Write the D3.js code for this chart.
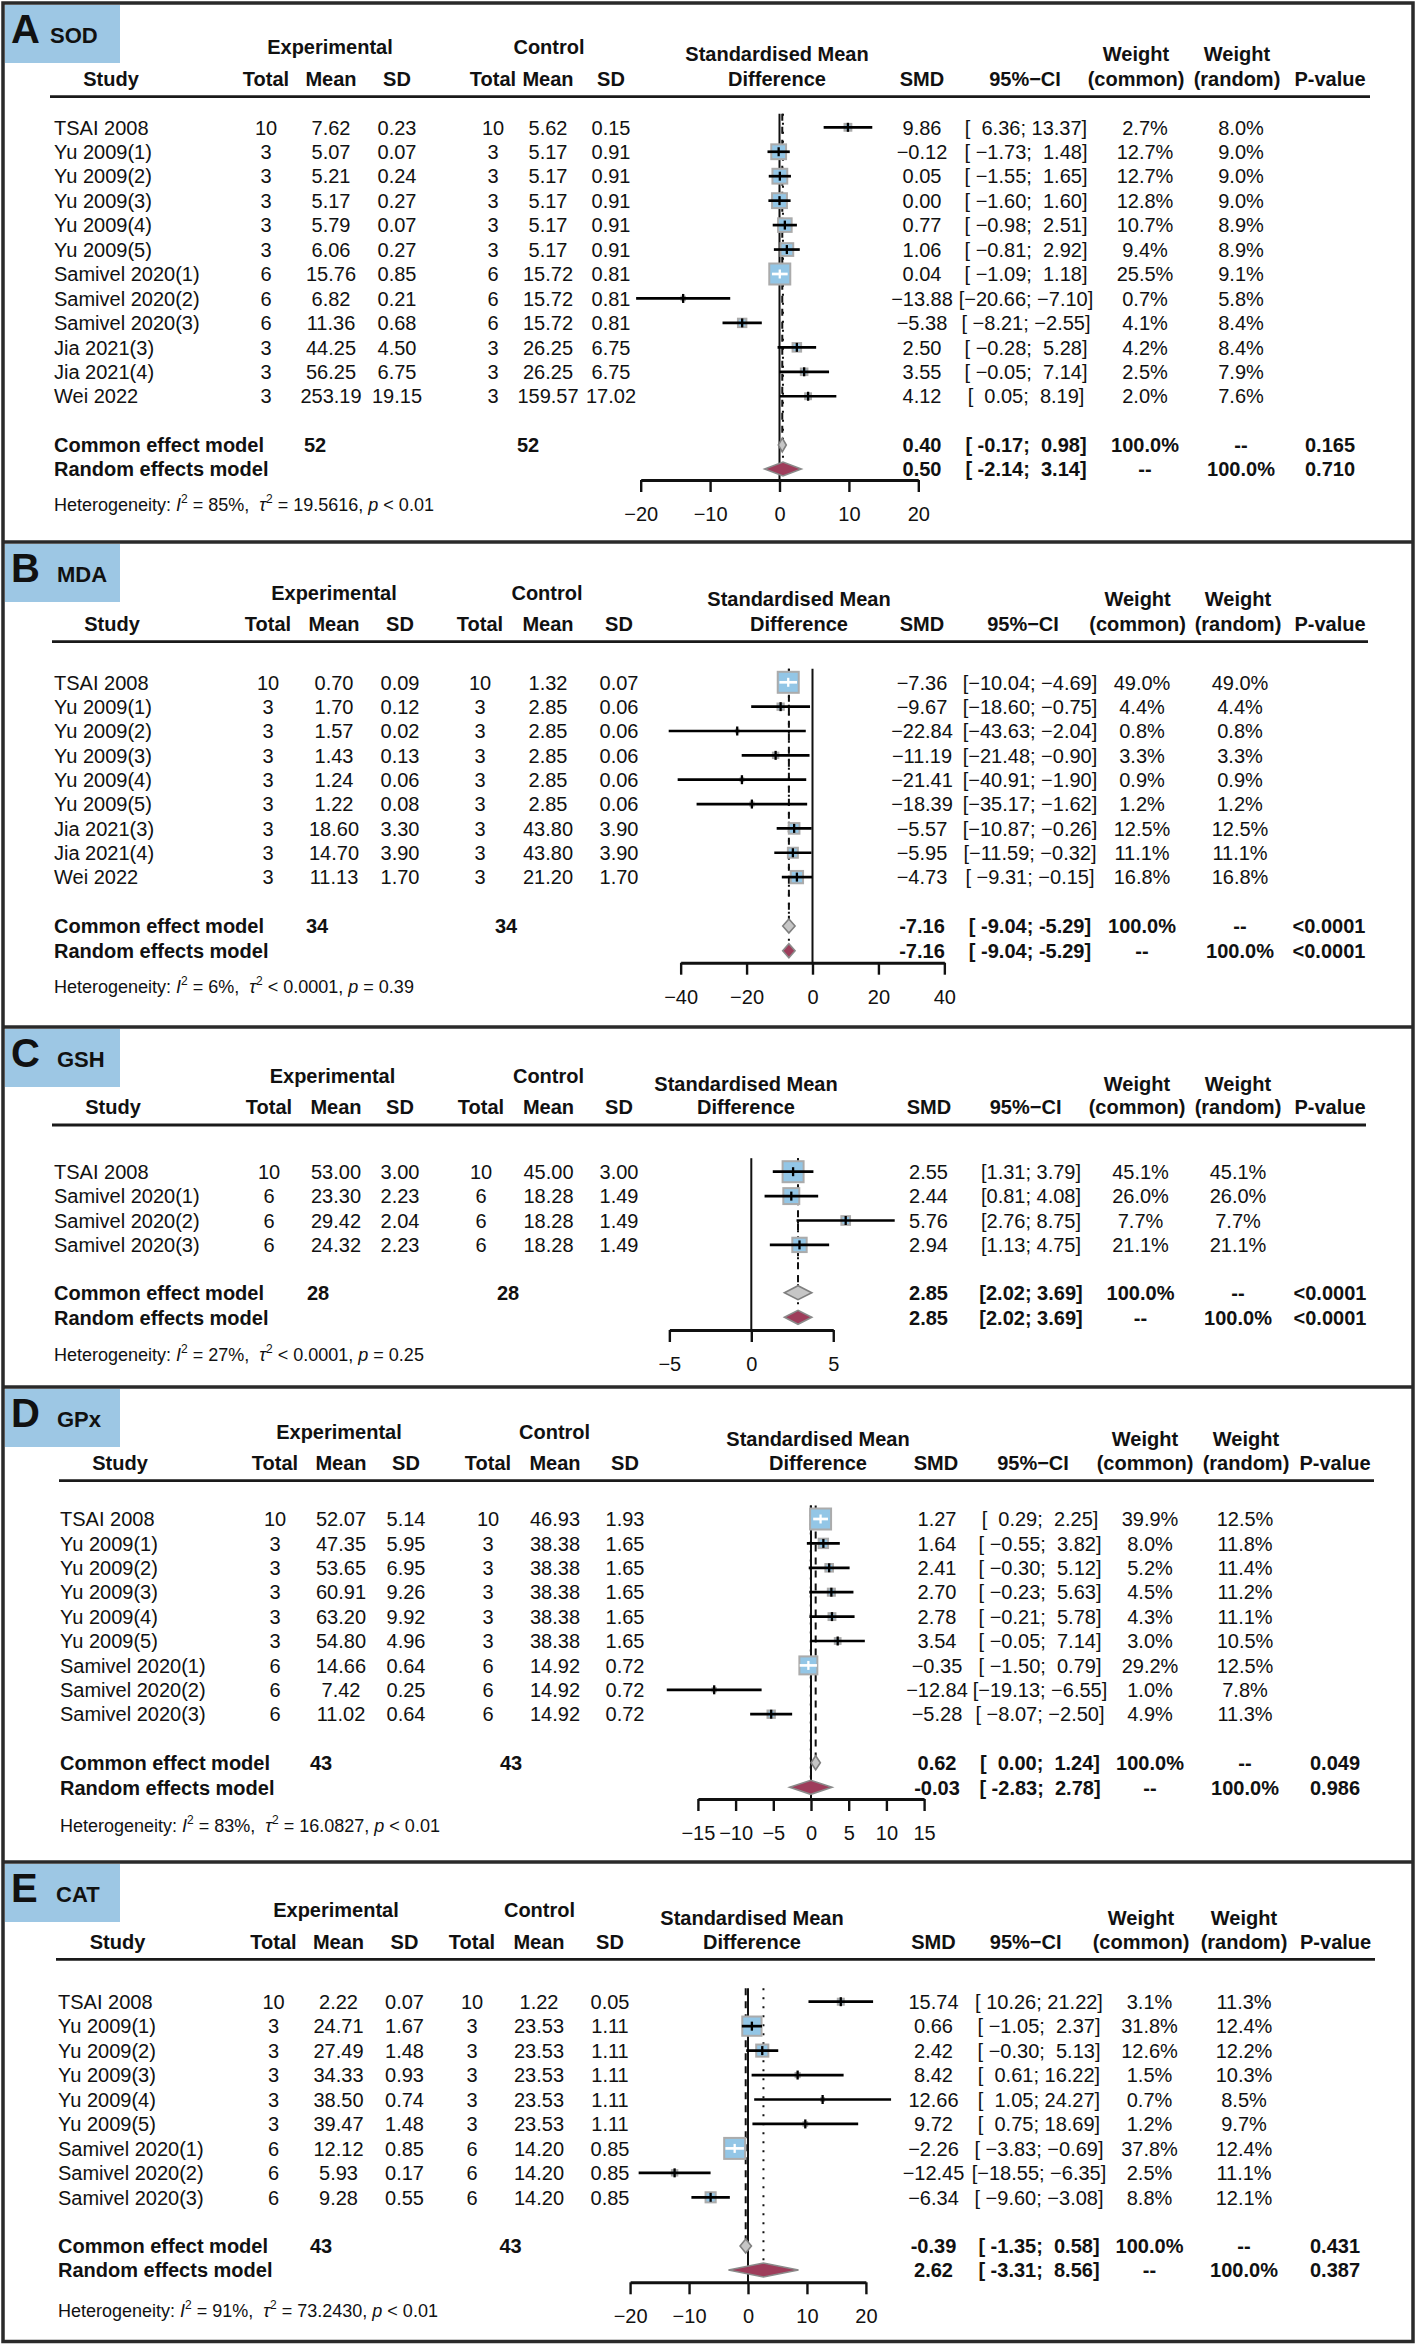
<!DOCTYPE html>
<html><head><meta charset="utf-8">
<script src="https://cdn.jsdelivr.net/npm/d3@7"></script>
<style>
body{margin:0;background:#fff}
svg{display:block}
text{font-family:"Liberation Sans",Arial,Helvetica,sans-serif;white-space:pre;fill:#111}
</style></head>
<body><svg id="fig" width="1417" height="2346"></svg>
<script>
// ---------------- DATA ----------------
// A: SOD
const sodStudy = ["TSAI 2008","Yu 2009(1)","Yu 2009(2)","Yu 2009(3)","Yu 2009(4)","Yu 2009(5)","Samivel 2020(1)","Samivel 2020(2)","Samivel 2020(3)","Jia 2021(3)","Jia 2021(4)","Wei 2022"];
const sodExpN = [10,3,3,3,3,3,6,6,6,3,3,3];
const sodExpMean = [7.62,5.07,5.21,5.17,5.79,6.06,15.76,6.82,11.36,44.25,56.25,253.19];
const sodExpSD = [0.23,0.07,0.24,0.27,0.07,0.27,0.85,0.21,0.68,4.50,6.75,19.15];
const sodCtrlN = [10,3,3,3,3,3,6,6,6,3,3,3];
const sodCtrlMean = [5.62,5.17,5.17,5.17,5.17,5.17,15.72,15.72,15.72,26.25,26.25,159.57];
const sodCtrlSD = [0.15,0.91,0.91,0.91,0.91,0.91,0.81,0.81,0.81,6.75,6.75,17.02];
const sodSMD = [9.86,-0.12,0.05,0.00,0.77,1.06,0.04,-13.88,-5.38,2.50,3.55,4.12];
const sodLower = [6.36,-1.73,-1.55,-1.60,-0.98,-0.81,-1.09,-20.66,-8.21,-0.28,-0.05,0.05];
const sodUpper = [13.37,1.48,1.65,1.60,2.51,2.92,1.18,-7.10,-2.55,5.28,7.14,8.19];
const sodWCommon = [2.7,12.7,12.7,12.8,10.7,9.4,25.5,0.7,4.1,4.2,2.5,2.0];
const sodWRandom = [8.0,9.0,9.0,9.0,8.9,8.9,9.1,5.8,8.4,8.4,7.9,7.6];
const sodCommon = [0.40,-0.17,0.98];
const sodRandom = [0.50,-2.14,3.14];
const sodTotals = [52,52];
const sodPvalues = ["0.165","0.710"];
const sodHet = ["85%","= 19.5616","< 0.01"];
const sodTicks = [-20,-10,0,10,20];

// B: MDA
const mdaStudy = ["TSAI 2008","Yu 2009(1)","Yu 2009(2)","Yu 2009(3)","Yu 2009(4)","Yu 2009(5)","Jia 2021(3)","Jia 2021(4)","Wei 2022"];
const mdaExpN = [10,3,3,3,3,3,3,3,3];
const mdaExpMean = [0.70,1.70,1.57,1.43,1.24,1.22,18.60,14.70,11.13];
const mdaExpSD = [0.09,0.12,0.02,0.13,0.06,0.08,3.30,3.90,1.70];
const mdaCtrlN = [10,3,3,3,3,3,3,3,3];
const mdaCtrlMean = [1.32,2.85,2.85,2.85,2.85,2.85,43.80,43.80,21.20];
const mdaCtrlSD = [0.07,0.06,0.06,0.06,0.06,0.06,3.90,3.90,1.70];
const mdaSMD = [-7.36,-9.67,-22.84,-11.19,-21.41,-18.39,-5.57,-5.95,-4.73];
const mdaLower = [-10.04,-18.60,-43.63,-21.48,-40.91,-35.17,-10.87,-11.59,-9.31];
const mdaUpper = [-4.69,-0.75,-2.04,-0.90,-1.90,-1.62,-0.26,-0.32,-0.15];
const mdaWCommon = [49.0,4.4,0.8,3.3,0.9,1.2,12.5,11.1,16.8];
const mdaWRandom = [49.0,4.4,0.8,3.3,0.9,1.2,12.5,11.1,16.8];
const mdaCommon = [-7.16,-9.04,-5.29];
const mdaRandom = [-7.16,-9.04,-5.29];
const mdaTotals = [34,34];
const mdaPvalues = ["<0.0001","<0.0001"];
const mdaHet = ["6%","< 0.0001","= 0.39"];
const mdaTicks = [-40,-20,0,20,40];

// C: GSH
const gshStudy = ["TSAI 2008","Samivel 2020(1)","Samivel 2020(2)","Samivel 2020(3)"];
const gshExpN = [10,6,6,6];
const gshExpMean = [53.00,23.30,29.42,24.32];
const gshExpSD = [3.00,2.23,2.04,2.23];
const gshCtrlN = [10,6,6,6];
const gshCtrlMean = [45.00,18.28,18.28,18.28];
const gshCtrlSD = [3.00,1.49,1.49,1.49];
const gshSMD = [2.55,2.44,5.76,2.94];
const gshLower = [1.31,0.81,2.76,1.13];
const gshUpper = [3.79,4.08,8.75,4.75];
const gshWCommon = [45.1,26.0,7.7,21.1];
const gshWRandom = [45.1,26.0,7.7,21.1];
const gshCommon = [2.85,2.02,3.69];
const gshRandom = [2.85,2.02,3.69];
const gshTotals = [28,28];
const gshPvalues = ["<0.0001","<0.0001"];
const gshHet = ["27%","< 0.0001","= 0.25"];
const gshTicks = [-5,0,5];

// D: GPx
const gpxStudy = ["TSAI 2008","Yu 2009(1)","Yu 2009(2)","Yu 2009(3)","Yu 2009(4)","Yu 2009(5)","Samivel 2020(1)","Samivel 2020(2)","Samivel 2020(3)"];
const gpxExpN = [10,3,3,3,3,3,6,6,6];
const gpxExpMean = [52.07,47.35,53.65,60.91,63.20,54.80,14.66,7.42,11.02];
const gpxExpSD = [5.14,5.95,6.95,9.26,9.92,4.96,0.64,0.25,0.64];
const gpxCtrlN = [10,3,3,3,3,3,6,6,6];
const gpxCtrlMean = [46.93,38.38,38.38,38.38,38.38,38.38,14.92,14.92,14.92];
const gpxCtrlSD = [1.93,1.65,1.65,1.65,1.65,1.65,0.72,0.72,0.72];
const gpxSMD = [1.27,1.64,2.41,2.70,2.78,3.54,-0.35,-12.84,-5.28];
const gpxLower = [0.29,-0.55,-0.30,-0.23,-0.21,-0.05,-1.50,-19.13,-8.07];
const gpxUpper = [2.25,3.82,5.12,5.63,5.78,7.14,0.79,-6.55,-2.50];
const gpxWCommon = [39.9,8.0,5.2,4.5,4.3,3.0,29.2,1.0,4.9];
const gpxWRandom = [12.5,11.8,11.4,11.2,11.1,10.5,12.5,7.8,11.3];
const gpxCommon = [0.62,0.00,1.24];
const gpxRandom = [-0.03,-2.83,2.78];
const gpxTotals = [43,43];
const gpxPvalues = ["0.049","0.986"];
const gpxHet = ["83%","= 16.0827","< 0.01"];
const gpxTicks = [-15,-10,-5,0,5,10,15];

// E: CAT
const catStudy = ["TSAI 2008","Yu 2009(1)","Yu 2009(2)","Yu 2009(3)","Yu 2009(4)","Yu 2009(5)","Samivel 2020(1)","Samivel 2020(2)","Samivel 2020(3)"];
const catExpN = [10,3,3,3,3,3,6,6,6];
const catExpMean = [2.22,24.71,27.49,34.33,38.50,39.47,12.12,5.93,9.28];
const catExpSD = [0.07,1.67,1.48,0.93,0.74,1.48,0.85,0.17,0.55];
const catCtrlN = [10,3,3,3,3,3,6,6,6];
const catCtrlMean = [1.22,23.53,23.53,23.53,23.53,23.53,14.20,14.20,14.20];
const catCtrlSD = [0.05,1.11,1.11,1.11,1.11,1.11,0.85,0.85,0.85];
const catSMD = [15.74,0.66,2.42,8.42,12.66,9.72,-2.26,-12.45,-6.34];
const catLower = [10.26,-1.05,-0.30,0.61,1.05,0.75,-3.83,-18.55,-9.60];
const catUpper = [21.22,2.37,5.13,16.22,24.27,18.69,-0.69,-6.35,-3.08];
const catWCommon = [3.1,31.8,12.6,1.5,0.7,1.2,37.8,2.5,8.8];
const catWRandom = [11.3,12.4,12.2,10.3,8.5,9.7,12.4,11.1,12.1];
const catCommon = [-0.39,-1.35,0.58];
const catRandom = [2.62,-3.31,8.56];
const catTotals = [43,43];
const catPvalues = ["0.431","0.387"];
const catHet = ["91%","= 73.2430","< 0.01"];
const catTicks = [-20,-10,0,10,20];

// ---------------- LAYOUT ----------------
const layoutA = {top:3, subX:50, h1:46.7, h1b:54, h2:79, hline:96.7, lx1:50, lx2:1370, row0:127.3, step:24.45, yCom:445, yRan:469, yAxis:480, yHet:504, x0:779.5, ppu:6.94, studyX:54, studyH:111, cols:[266,331,397,493,548,611], expH:330, ctrlH:549, fH:777, smd:922, smdH:922, ci:1026, ciH:1025, wc:1145, wcH:1136, wr:1241, wrH:1237, p:1330, pH:1330, totE:315, totC:528};
const layoutB = {top:542, subX:57, h1:593, h1b:599, h2:624, hline:641.7, lx1:52, lx2:1368, row0:682.3, step:24.35, yCom:926, yRan:950.7, yAxis:962.7, yHet:986.7, x0:812.5, ppu:3.296, studyX:54, studyH:112, cols:[268,334,400,480,548,619], expH:334, ctrlH:547, fH:799, smd:922, smdH:922, ci:1030, ciH:1023, wc:1142, wcH:1137.6, wr:1240, wrH:1238, p:1329, pH:1330, totE:317, totC:506};
const layoutC = {top:1027, subX:57, h1:1076, h1b:1083.3, h2:1106.7, hline:1125, lx1:52, lx2:1366, row0:1171.7, step:24.4, yCom:1292.7, yRan:1317.3, yAxis:1330, yHet:1354, x0:751.3, ppu:16.39, studyX:54, studyH:113, cols:[269,336,400,481,548.5,619], expH:332.5, ctrlH:548.5, fH:746, smd:928.5, smdH:929, ci:1031, ciH:1025.6, wc:1140.5, wcH:1137, wr:1238, wrH:1238, p:1330, pH:1330, totE:318, totC:508};
const layoutD = {top:1387, subX:57, h1:1431.7, h1b:1438.3, h2:1462.7, hline:1480.7, lx1:59, lx2:1374, row0:1519, step:24.4, yCom:1762.7, yRan:1787.3, yAxis:1799, yHet:1825, x0:811, ppu:7.54, studyX:60, studyH:120, cols:[275,341,406,488,555,625], expH:339, ctrlH:554.6, fH:818, smd:937, smdH:936, ci:1040, ciH:1033, wc:1150, wcH:1145, wr:1245, wrH:1246, p:1335, pH:1335, totE:321, totC:511};
const layoutE = {top:1862, subX:56, h1:1910, h1b:1917.3, h2:1941.7, hline:1959.3, lx1:56, lx2:1375, row0:2001.7, step:24.45, yCom:2246, yRan:2270, yAxis:2282.3, yHet:2310, x0:748, ppu:5.895, studyX:58, studyH:117.5, cols:[273.5,338.5,404.5,472,539,610], expH:336, ctrlH:539.5, fH:752, smd:933.5, smdH:933.5, ci:1039, ciH:1025.7, wc:1149.5, wcH:1141, wr:1244, wrH:1244, p:1335, pH:1335.6, totE:321, totC:510.6};

const panels = [
 {letter:"A", name:"SOD", study:sodStudy, eN:sodExpN, eM:sodExpMean, eS:sodExpSD, cN:sodCtrlN, cM:sodCtrlMean, cS:sodCtrlSD, smd:sodSMD, lo:sodLower, hi:sodUpper, wc:sodWCommon, wr:sodWRandom, com:sodCommon, ran:sodRandom, tot:sodTotals, pv:sodPvalues, het:sodHet, ticks:sodTicks, L:layoutA},
 {letter:"B", name:"MDA", study:mdaStudy, eN:mdaExpN, eM:mdaExpMean, eS:mdaExpSD, cN:mdaCtrlN, cM:mdaCtrlMean, cS:mdaCtrlSD, smd:mdaSMD, lo:mdaLower, hi:mdaUpper, wc:mdaWCommon, wr:mdaWRandom, com:mdaCommon, ran:mdaRandom, tot:mdaTotals, pv:mdaPvalues, het:mdaHet, ticks:mdaTicks, L:layoutB},
 {letter:"C", name:"GSH", study:gshStudy, eN:gshExpN, eM:gshExpMean, eS:gshExpSD, cN:gshCtrlN, cM:gshCtrlMean, cS:gshCtrlSD, smd:gshSMD, lo:gshLower, hi:gshUpper, wc:gshWCommon, wr:gshWRandom, com:gshCommon, ran:gshRandom, tot:gshTotals, pv:gshPvalues, het:gshHet, ticks:gshTicks, L:layoutC},
 {letter:"D", name:"GPx", study:gpxStudy, eN:gpxExpN, eM:gpxExpMean, eS:gpxExpSD, cN:gpxCtrlN, cM:gpxCtrlMean, cS:gpxCtrlSD, smd:gpxSMD, lo:gpxLower, hi:gpxUpper, wc:gpxWCommon, wr:gpxWRandom, com:gpxCommon, ran:gpxRandom, tot:gpxTotals, pv:gpxPvalues, het:gpxHet, ticks:gpxTicks, L:layoutD},
 {letter:"E", name:"CAT", study:catStudy, eN:catExpN, eM:catExpMean, eS:catExpSD, cN:catCtrlN, cM:catCtrlMean, cS:catCtrlSD, smd:catSMD, lo:catLower, hi:catUpper, wc:catWCommon, wr:catWRandom, com:catCommon, ran:catRandom, tot:catTotals, pv:catPvalues, het:catHet, ticks:catTicks, L:layoutE}
];

// ---------------- DRAW ----------------
const svg = d3.select("#fig");
svg.append("rect").attr("width",1417).attr("height",2346).attr("fill","#fff");

const MINUS = "\u2212";
function num(v, bold){ const s = Math.abs(v).toFixed(2); return (v < 0 ? (bold ? "-" : MINUS) : "") + s; }
function pad(s, n){ while (s.length < n) s = " " + s; return s; }

function txt(g, x, y, s, opt){
  opt = opt || {};
  return g.append("text").attr("x", x).attr("y", y + (opt.size || 20) * 0.36)
    .attr("font-size", opt.size || 20)
    .attr("font-weight", opt.bold ? "bold" : null)
    .attr("text-anchor", opt.anchor || "middle")
    .text(s);
}

function drawPanel(P){
  const L = P.L, g = svg.append("g");
  const n = P.study.length;
  // label box
  g.append("rect").attr("x",5).attr("y",L.top+2).attr("width",115).attr("height",58).attr("fill","#9dc7e4");
  g.append("text").attr("x",11).attr("y",L.top+40).attr("font-size",40).attr("font-weight","bold").text(P.letter);
  g.append("text").attr("x",L.subX).attr("y",L.top+40).attr("font-size",22).attr("font-weight","bold").text(P.name);

  // headers
  txt(g, L.expH, L.h1, "Experimental", {bold:true});
  txt(g, L.ctrlH, L.h1, "Control", {bold:true});
  txt(g, L.fH, L.h1b, "Standardised Mean", {bold:true});
  txt(g, L.wcH, L.h1b, "Weight", {bold:true});
  txt(g, L.wrH, L.h1b, "Weight", {bold:true});
  txt(g, L.studyH, L.h2, "Study", {bold:true});
  ["Total","Mean","SD","Total","Mean","SD"].forEach((h,i)=>txt(g, L.cols[i], L.h2, h, {bold:true}));
  txt(g, L.fH, L.h2, "Difference", {bold:true});
  txt(g, L.smdH, L.h2, "SMD", {bold:true});
  txt(g, L.ciH, L.h2, "95%" + MINUS + "CI", {bold:true});
  txt(g, L.wcH, L.h2, "(common)", {bold:true});
  txt(g, L.wrH, L.h2, "(random)", {bold:true});
  txt(g, L.pH, L.h2, "P-value", {bold:true});
  g.append("line").attr("x1",L.lx1).attr("x2",L.lx2).attr("y1",L.hline).attr("y2",L.hline)
    .attr("stroke","#1a1a1a").attr("stroke-width",2.8);

  // scales
  const t0 = P.ticks[0], t1 = P.ticks[P.ticks.length-1];
  const x = d3.scaleLinear().domain([t0, t1]).range([L.x0 + t0*L.ppu, L.x0 + t1*L.ppu]);
  const y = d3.scaleLinear().domain([0, n-1]).range([L.row0, L.row0 + (n-1)*L.step]);
  const wmax = d3.max(P.wc);
  const side = d3.scaleSqrt().domain([0, wmax]).range([0, 21]);

  // CI strings with meta-style padding
  const loS = P.lo.map(v=>num(v,false)), hiS = P.hi.map(v=>num(v,false));
  const cLo = num(P.com[1],true), cHi = num(P.com[2],true), rLo = num(P.ran[1],true), rHi = num(P.ran[2],true);
  const lw = d3.max([...loS, cLo, rLo], s=>s.length), hw = d3.max([...hiS, cHi, rHi], s=>s.length);
  const ci = (a,b) => "[" + pad(a,lw) + "; " + pad(b,hw) + "]";

  // reference lines
  const yTop = L.row0 - 13.5;
  g.append("line").attr("x1",x(0)).attr("x2",x(0)).attr("y1",yTop).attr("y2",L.yAxis)
    .attr("stroke","#111").attr("stroke-width",2);
  g.append("line").attr("x1",x(P.com[0])).attr("x2",x(P.com[0])).attr("y1",yTop).attr("y2",L.yCom-7)
    .attr("stroke","#111").attr("stroke-width",2).attr("stroke-dasharray","7,6");
  g.append("line").attr("x1",x(P.ran[0])).attr("x2",x(P.ran[0])).attr("y1",yTop).attr("y2",L.yRan-7)
    .attr("stroke","#111").attr("stroke-width",2).attr("stroke-dasharray","2,7");

  // study rows
  for (let i = 0; i < n; i++){
    const yy = y(i);
    txt(g, L.studyX, yy, P.study[i], {anchor:"start"});
    txt(g, L.cols[0], yy, String(P.eN[i]));
    txt(g, L.cols[1], yy, P.eM[i].toFixed(2));
    txt(g, L.cols[2], yy, P.eS[i].toFixed(2));
    txt(g, L.cols[3], yy, String(P.cN[i]));
    txt(g, L.cols[4], yy, P.cM[i].toFixed(2));
    txt(g, L.cols[5], yy, P.cS[i].toFixed(2));
    txt(g, L.smd, yy, num(P.smd[i], false));
    txt(g, L.ci, yy, ci(loS[i], hiS[i]));
    txt(g, L.wc, yy, P.wc[i].toFixed(1) + "%");
    txt(g, L.wr, yy, P.wr[i].toFixed(1) + "%");

    const s = side(P.wc[i]), xe = x(P.smd[i]);
    g.append("rect").attr("x", xe - s/2).attr("y", yy - s/2).attr("width", s).attr("height", s)
      .attr("fill","#93c6e6").attr("stroke","#ababab").attr("stroke-width",2);
    const inside = (x(P.hi[i]) - x(P.lo[i])) < s;
    const col = inside ? "#fff" : "#000";
    g.append("line").attr("x1",x(P.lo[i])).attr("x2",x(P.hi[i])).attr("y1",yy).attr("y2",yy)
      .attr("stroke",col).attr("stroke-width",2.7);
    g.append("line").attr("x1",xe).attr("x2",xe).attr("y1",yy-4.5).attr("y2",yy+4.5)
      .attr("stroke",col).attr("stroke-width",2.3);
  }

  // summary rows
  txt(g, L.studyX, L.yCom, "Common effect model", {anchor:"start", bold:true});
  txt(g, L.studyX, L.yRan, "Random effects model", {anchor:"start", bold:true});
  txt(g, L.totE, L.yCom, String(P.tot[0]), {bold:true});
  txt(g, L.totC, L.yCom, String(P.tot[1]), {bold:true});
  txt(g, L.smd, L.yCom, num(P.com[0], true), {bold:true});
  txt(g, L.ci, L.yCom, ci(cLo, cHi), {bold:true});
  txt(g, L.wc, L.yCom, "100.0%", {bold:true});
  txt(g, L.wr, L.yCom, "--", {bold:true});
  txt(g, L.p, L.yCom, P.pv[0], {bold:true});
  txt(g, L.smd, L.yRan, num(P.ran[0], true), {bold:true});
  txt(g, L.ci, L.yRan, ci(rLo, rHi), {bold:true});
  txt(g, L.wc, L.yRan, "--", {bold:true});
  txt(g, L.wr, L.yRan, "100.0%", {bold:true});
  txt(g, L.p, L.yRan, P.pv[1], {bold:true});

  const diamond = (est, lo, hi, yy) => `M${x(lo)},${yy}L${x(est)},${yy-7}L${x(hi)},${yy}L${x(est)},${yy+7}Z`;
  g.append("path").attr("d", diamond(P.com[0], P.com[1], P.com[2], L.yCom))
    .attr("fill","#c6c6c6").attr("stroke","#7f7f7f").attr("stroke-width",1.6);
  g.append("path").attr("d", diamond(P.ran[0], P.ran[1], P.ran[2], L.yRan))
    .attr("fill","#9e3d5b").attr("stroke","#8a8a8a").attr("stroke-width",1.6);

  // axis
  const ax = g.append("g").attr("transform", `translate(0,${L.yAxis})`)
    .call(d3.axisBottom(x).tickValues(P.ticks).tickSize(12).tickSizeOuter(0)
      .tickFormat(d => d < 0 ? MINUS + Math.abs(d) : String(d)));
  ax.select(".domain").attr("stroke","#111").attr("stroke-width",3);
  ax.selectAll(".tick line").attr("stroke","#111").attr("stroke-width",2.4);
  ax.selectAll(".tick text").attr("font-size",20).attr("y",41).attr("dy",null)
    .attr("font-family",null).style("fill","#111");
  ax.attr("font-family",null);

  // heterogeneity
  const t = g.append("text").attr("x", L.studyX).attr("y", L.yHet + 6.5).attr("font-size",18);
  t.append("tspan").text("Heterogeneity: ");
  t.append("tspan").attr("font-style","italic").text("I");
  t.append("tspan").attr("dy",-8).attr("font-size",12).text("2");
  t.append("tspan").attr("dy",8).text(" = " + P.het[0] + ",  ");
  t.append("tspan").attr("font-style","italic").text("\u03c4");
  t.append("tspan").attr("dy",-8).attr("font-size",12).text("2");
  t.append("tspan").attr("dy",8).text(" " + P.het[1] + ", ");
  t.append("tspan").attr("font-style","italic").text("p");
  t.append("tspan").text(" " + P.het[2]);
}

panels.forEach(drawPanel);

// frame and separators
const frame = svg.append("g");
frame.append("rect").attr("x",3).attr("y",3).attr("width",1410).attr("height",2338.5)
  .attr("fill","none").attr("stroke","#2a2a2a").attr("stroke-width",3.5);
panels.slice(1).forEach(P => {
  frame.append("line").attr("x1",3).attr("x2",1413).attr("y1",P.L.top).attr("y2",P.L.top)
    .attr("stroke","#2a2a2a").attr("stroke-width",3.5);
});
</script>
</body></html>
